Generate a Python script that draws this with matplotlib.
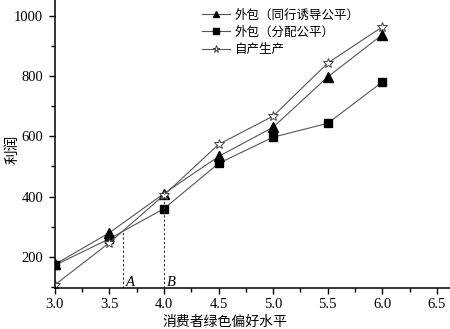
import matplotlib
matplotlib.use("Agg")
import matplotlib.pyplot as plt
from matplotlib.ticker import MultipleLocator

plt.rcParams['font.family'] = ['Liberation Serif', 'Noto Sans CJK SC']

# consumer green preference level
x = [3.0, 3.5, 4.0, 4.5, 5.0, 5.5, 6.0]
# profits
peer_fair = [175, 280, 410, 533, 630, 797, 937]     # 外包(同行诱导公平)
dist_fair = [172, 260, 360, 510, 597, 643, 780]     # 外包(分配公平)
self_prod = [107, 247, 405, 573, 667, 843, 963]     # 自产生产

labels = ["外包（同行诱导公平）", "外包（分配公平）", "自产生产"]
point_A = (3.62, 283)
point_B = (4.0, 410)

fig = plt.figure(figsize=(4.5, 3.29), dpi=100)
ax = fig.add_axes([0.122, 0.125, 0.878, 0.875])

lc = '#555555'
ax.plot(x, peer_fair, color=lc, lw=0.8, marker='^', ms=6.5,
        mfc='black', mec='black', label=labels[0])
ax.plot(x, dist_fair, color=lc, lw=0.8, marker='s', ms=5.5,
        mfc='black', mec='black', label=labels[1])
ax.plot(x, self_prod, color=lc, lw=0.8, marker='*', ms=7,
        mfc='white', mec='#444444', mew=0.7, label=labels[2])

ymin = 97
for px, py in [point_A, point_B]:
    ax.plot([px, px], [ymin, py], color='#333333', lw=0.8, ls=(0, (2, 2)))
ax.text(point_A[0] + 0.03, 103, 'A', style='italic', fontsize=10.5)
ax.text(point_B[0] + 0.03, 103, 'B', style='italic', fontsize=10.5)

ax.set_xlim(3.0, 6.62)
ax.set_ylim(ymin, 1052)
ax.xaxis.set_major_locator(MultipleLocator(0.5))
ax.xaxis.set_minor_locator(MultipleLocator(0.25))
ax.yaxis.set_major_locator(MultipleLocator(200))
ax.yaxis.set_minor_locator(MultipleLocator(100))
ax.tick_params(which='major', length=4.5, width=1, labelsize=10.5)
ax.tick_params(axis='y', which='major', pad=4)
ax.tick_params(axis='x', which='major', pad=3)
ax.tick_params(which='minor', length=3, width=1)
for s in ['top', 'right']:
    ax.spines[s].set_visible(False)
for s in ['left', 'bottom']:
    ax.spines[s].set_linewidth(1.1)

ax.set_xlabel("消费者绿色偏好水平", fontsize=10, family=['Noto Sans CJK SC'])
ax.set_ylabel("利润", fontsize=10.5, family=['Noto Sans CJK SC'])
ax.xaxis.set_label_coords(0.43, -0.094)
ax.yaxis.set_label_coords(-0.09, 0.48)

ax.legend(loc='upper left', bbox_to_anchor=(0.345, 1.01), frameon=False,
          prop={'family': ['Noto Sans CJK SC'], 'size': 9},
          handlelength=2.2, handletextpad=0.4, labelspacing=0.35,
          markerscale=0.75)

fig.savefig("out.png", dpi=100)
